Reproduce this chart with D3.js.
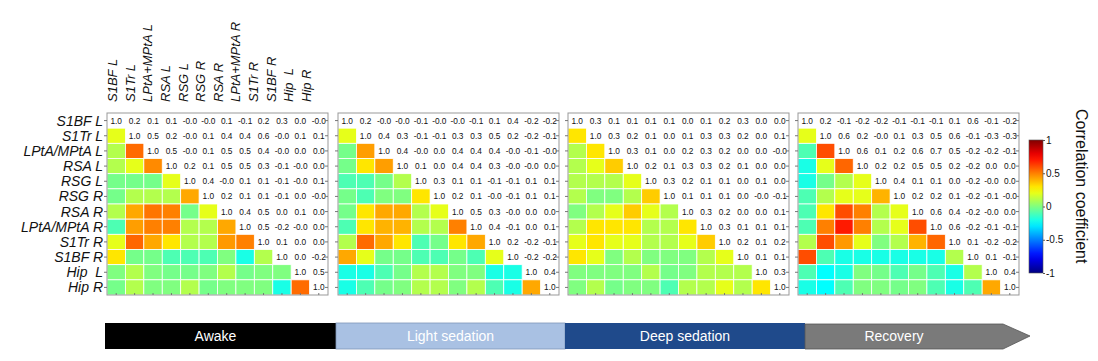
<!DOCTYPE html>
<html><head><meta charset="utf-8">
<script src="https://cdn.jsdelivr.net/npm/d3@7"></script>
<style>
body{margin:0;background:#fff;}
svg{font-family:"Liberation Sans",Arial,sans-serif;}
text{white-space:pre;}
</style></head>
<body><svg id="c" width="1098" height="361"></svg>
<script>
const rowLabels = ["S1BF L","S1Tr L","LPtA/MPtA L","RSA L","RSG L","RSG R","RSA R","LPtA/MPtA R","S1Tr R","S1BF R","Hip  L","Hip R"];
const colLabels = ["S1BF L","S1Tr L","LPtA+MPtA L","RSA L","RSG L","RSG R","RSA R","LPtA+MPtA R","S1Tr R","S1BF R","Hip  L","Hip R"];
const states = ["Awake","Light sedation","Deep sedation","Recovery"];
const colorTicks = [-1,-0.5,0,0.5,1];

// upper triangle, row i starts at the diagonal (column i)
const awake = [
 [1.0,0.2,0.1,0.1,-0.02,-0.02,0.1,-0.1,0.2,0.3,0.0,-0.02],
 [1.0,0.54,0.2,-0.02,0.1,0.42,0.44,0.55,-0.02,0.1,0.1],
 [1.0,0.48,-0.02,0.1,0.52,0.5,0.42,-0.02,0.0,0.0],
 [1.0,0.2,0.1,0.5,0.5,0.3,-0.1,-0.02,0.0],
 [1.0,0.42,-0.02,0.1,0.1,-0.1,-0.02,0.1],
 [1.0,0.2,0.1,0.1,-0.1,0.0,-0.02],
 [1.0,0.42,0.45,0.0,0.1,0.0],
 [1.0,0.5,-0.2,-0.02,0.0],
 [1.0,0.1,0.0,0.0],
 [1.0,0.0,-0.2],
 [1.0,0.54],
 [1.0]
];
const lightSedation = [
 [1.0,0.2,-0.02,-0.02,-0.1,-0.02,-0.02,-0.1,0.1,0.42,-0.2,-0.2],
 [1.0,0.44,0.3,-0.1,-0.1,0.3,0.3,0.54,0.2,-0.2,-0.1],
 [1.0,0.44,-0.02,0.0,0.42,0.4,0.42,-0.02,-0.1,-0.02],
 [1.0,0.1,0.0,0.42,0.4,0.3,-0.02,-0.02,0.0],
 [1.0,0.3,0.1,0.1,-0.1,-0.1,0.1,0.1],
 [1.0,0.2,0.1,-0.02,-0.1,0.1,0.1],
 [1.0,0.5,0.3,-0.02,0.0,0.0],
 [1.0,0.42,-0.1,0.0,0.1],
 [1.0,0.2,-0.2,-0.1],
 [1.0,-0.2,-0.2],
 [1.0,0.42],
 [1.0]
];
const deepSedation = [
 [1.0,0.3,0.1,0.1,0.1,0.1,0.0,0.1,0.2,0.3,0.0,0.0],
 [1.0,0.3,0.2,0.1,0.0,0.1,0.3,0.3,0.2,0.0,0.1],
 [1.0,0.35,0.1,0.0,0.2,0.3,0.2,0.0,0.0,-0.02],
 [1.0,0.2,0.1,0.35,0.3,0.2,0.1,0.0,0.0],
 [1.0,0.35,0.2,0.1,0.1,0.0,0.1,0.0],
 [1.0,0.1,0.1,0.1,0.0,-0.02,-0.1],
 [1.0,0.3,0.2,0.0,0.0,0.1],
 [1.0,0.35,0.1,0.1,0.1],
 [1.0,0.2,0.1,0.2],
 [1.0,0.1,0.1],
 [1.0,0.3],
 [1.0]
];
const recovery = [
 [1.0,0.2,-0.1,-0.2,-0.2,-0.1,-0.1,-0.1,0.1,0.6,-0.1,-0.2],
 [1.0,0.6,0.2,-0.02,0.1,0.3,0.5,0.6,-0.1,-0.25,-0.25],
 [1.0,0.55,0.1,0.2,0.6,0.7,0.45,-0.2,-0.2,-0.1],
 [1.0,0.2,0.2,0.5,0.5,0.2,-0.2,0.0,0.0],
 [1.0,0.4,0.1,0.1,0.0,-0.2,-0.02,0.0],
 [1.0,0.2,0.2,0.1,-0.2,-0.1,-0.02],
 [1.0,0.6,0.4,-0.2,-0.02,0.0],
 [1.0,0.55,-0.2,-0.1,-0.1],
 [1.0,0.1,-0.2,-0.2],
 [1.0,0.1,-0.1],
 [1.0,0.42],
 [1.0]
];
const matrices = [awake, lightSedation, deepSedation, recovery];

const jet = d3.scaleLinear()
  .domain([-1,-0.75,-0.25,0.25,0.75,1])
  .range(["#000080","#0000ff","#00ffff","#ffff00","#ff0000","#800000"])
  .clamp(true);

const svg = d3.select("#c");
const n = rowLabels.length;
const panelX = [107,338,568,798];
const panelW = 221, topY = 113, panelH = 182;

const yBand = d3.scaleBand().domain(d3.range(n)).range([topY, topY+panelH]);

matrices.forEach((M, p) => {
  const xBand = d3.scaleBand().domain(d3.range(n)).range([panelX[p], panelX[p]+panelW]);
  const g = svg.append("g");
  const cells = [];
  const texts = [];
  for (let i=0;i<n;i++) for (let j=0;j<n;j++) {
    if (i>j) cells.push({i, j, v: M[j][i-j]});
    else texts.push({i, j, v: M[i][j-i]});
  }
  g.selectAll("rect.cell").data(cells).join("rect")
    .attr("x", d=>xBand(d.j)).attr("y", d=>yBand(d.i))
    .attr("width", xBand.bandwidth()).attr("height", yBand.bandwidth())
    .attr("fill", d=>jet(d.v)).attr("stroke","#fff").attr("stroke-width",0.8);
  g.selectAll("text.val").data(texts).join("text")
    .attr("x", d=>xBand(d.j)+xBand.bandwidth()/2)
    .attr("y", d=>yBand(d.i)+yBand.bandwidth()/2+3)
    .attr("text-anchor","middle").attr("font-size",8.3).attr("fill","#111")
    .text(d=>d.v.toFixed(1));
  g.append("rect").attr("x",panelX[p]).attr("y",topY).attr("width",panelW).attr("height",panelH)
    .attr("fill","none").attr("stroke","#999").attr("stroke-width",1);
  const tk = g.append("g").attr("stroke","#777").attr("stroke-width",1);
  d3.range(n).forEach(k=>{
    const yc = yBand(k)+yBand.bandwidth()/2;
    tk.append("line").attr("x1",panelX[p]-3).attr("x2",panelX[p]).attr("y1",yc).attr("y2",yc);
    tk.append("line").attr("x1",panelX[p]+panelW-3).attr("x2",panelX[p]+panelW).attr("y1",yc).attr("y2",yc);
    const xc = xBand(k)+xBand.bandwidth()/2;
    tk.append("line").attr("x1",xc).attr("x2",xc).attr("y1",topY+panelH-2).attr("y2",topY+panelH);
  });
});

svg.append("g").selectAll("text").data(rowLabels).join("text")
  .attr("x",103).attr("y",(d,i)=>yBand(i)+yBand.bandwidth()/2+5)
  .attr("text-anchor","end").attr("font-size",14).attr("font-style","italic").attr("fill","#111")
  .text(d=>d);

const colPos = d3.scalePoint().domain(d3.range(n)).range([117,311]);
svg.append("g").selectAll("text").data(colLabels).join("text")
  .attr("transform",(d,i)=>`translate(${colPos(i)},102) rotate(-90)`)
  .attr("font-size",13).attr("font-style","italic").attr("fill","#111")
  .text(d=>d);

const cbX = 1029, cbW = 14, cbTop = 140, cbBot = 273;
const defs = svg.append("defs");
const grad = defs.append("linearGradient").attr("id","jetg").attr("x1",0).attr("y1",1).attr("x2",0).attr("y2",0);
d3.range(0,1.0001,0.05).forEach(t=>{
  grad.append("stop").attr("offset",t).attr("stop-color",jet(-1+2*t));
});
svg.append("rect").attr("x",cbX).attr("y",cbTop).attr("width",cbW).attr("height",cbBot-cbTop)
  .attr("fill","url(#jetg)").attr("stroke","#555").attr("stroke-width",0.6);
const cbScale = d3.scaleLinear().domain([-1,1]).range([cbBot,cbTop]);
const cbAxis = svg.append("g").attr("transform",`translate(${cbX+cbW},0)`)
  .call(d3.axisRight(cbScale).tickValues(colorTicks).tickSize(2).tickFormat(d=>String(d)));
cbAxis.select(".domain").remove();
cbAxis.selectAll("line").attr("stroke","#555");
cbAxis.selectAll("text").attr("font-size",10).attr("fill","#111").attr("x",3)
  .attr("font-family","'Liberation Sans',Arial,sans-serif");
svg.append("text").attr("transform","translate(1076,109) rotate(90)")
  .attr("font-size",16).attr("fill","#111").text("Correlation coefficient");

const barX = d3.scaleOrdinal().domain(states).range([[105,336],[336,565],[565,805],[805,1003]]);
const barFill = ["#000000","#a9c1e3","#1f4a8b","#7a7a7a"];
const by0 = 323, by1 = 349, tip = 1030;
states.forEach((s,k)=>{
  const [a,b] = barX(s);
  if (k<3) {
    svg.append("rect").attr("x",a).attr("y",by0).attr("width",b-a).attr("height",by1-by0)
      .attr("fill",barFill[k]).attr("stroke",k===1?"#7f96b8":"none").attr("stroke-width",0.8);
  } else {
    svg.append("path").attr("d",`M${a},${by0+1}L${b},${by0+1}L${tip},${(by0+by1)/2}L${b},${by1}L${a},${by1}Z`)
      .attr("fill",barFill[k]).attr("stroke","#555").attr("stroke-width",0.8);
  }
  svg.append("text").attr("x",(a+b)/2 + (k===3?-10:0)+ (k===0?-5:0)).attr("y",(by0+by1)/2+5)
    .attr("text-anchor","middle").attr("font-size",14).attr("fill","#fff").text(s);
});
</script></body></html>
